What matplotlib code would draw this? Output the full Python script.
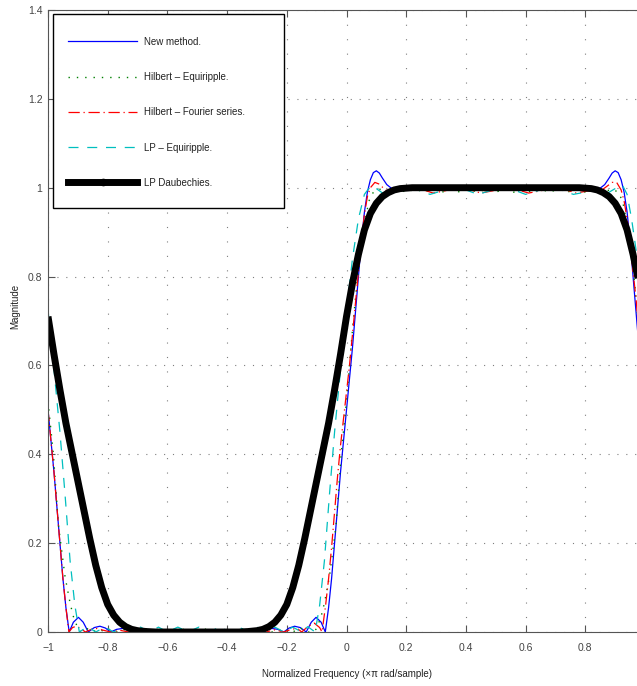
import matplotlib
matplotlib.use('Agg')
import matplotlib.pyplot as plt
from matplotlib.lines import Line2D
from matplotlib.patches import Rectangle

# ---- data ----
# New method (blue)
new_x = [-1.00, -0.99, -0.98, -0.97, -0.96, -0.95, -0.94, -0.929, -0.915, -0.898, -0.882, -0.865,
         -0.845, -0.826, -0.808, -0.79, -0.77, -0.75, -0.73, -0.71, -0.69, -0.67, -0.65, -0.63,
         -0.61, -0.59, -0.57, -0.55, -0.53, -0.50, -0.47, -0.45, -0.43, -0.41, -0.39, -0.37,
         -0.35, -0.33, -0.31, -0.29, -0.27, -0.25, -0.23, -0.21, -0.192, -0.174, -0.155, -0.135,
         -0.118, -0.102, -0.085, -0.071, -0.06, -0.05, -0.04, -0.03, -0.02, -0.01, 0.0, 0.01,
         0.02, 0.03, 0.04, 0.05, 0.06, 0.07, 0.08, 0.09, 0.10, 0.11, 0.12, 0.135, 0.15, 0.18,
         0.22, 0.26, 0.30, 0.34, 0.38, 0.42, 0.46, 0.50, 0.54, 0.58, 0.62, 0.66, 0.70, 0.74,
         0.78, 0.82, 0.85, 0.865, 0.88, 0.89, 0.90, 0.91, 0.92, 0.93, 0.94, 0.95, 0.96, 0.97,
         0.98, 0.99, 1.00]
new_y = [0.50, 0.43, 0.36, 0.28, 0.20, 0.12, 0.055, 0.0, 0.022, 0.033, 0.022, 0.0,
         0.010, 0.013, 0.009, 0.0, 0.006, 0.008, 0.005, 0.0, 0.004, 0.005, 0.003, 0.0,
         0.003, 0.004, 0.002, 0.0, 0.003, 0.004, 0.003, 0.0, 0.002, 0.004, 0.003, 0.0,
         0.003, 0.005, 0.004, 0.0, 0.005, 0.008, 0.006, 0.0, 0.009, 0.013, 0.010, 0.0,
         0.022, 0.033, 0.022, 0.0, 0.055, 0.12, 0.20, 0.28, 0.36, 0.43, 0.50, 0.57,
         0.64, 0.72, 0.80, 0.88, 0.945, 0.99, 1.018, 1.034, 1.038, 1.033, 1.022, 1.007, 0.999, 0.997,
         1.0, 1.002, 1.0, 0.998, 1.0, 1.002, 1.0, 0.998, 1.0, 1.002, 1.0, 0.998, 1.0, 1.002,
         1.0, 0.997, 0.999, 1.007, 1.022, 1.033, 1.038, 1.034, 1.018, 0.99, 0.945, 0.88, 0.80, 0.72,
         0.64, 0.57, 0.50]

# Hilbert - Equiripple (green dotted)
heq_x = [-1.00, -0.982, -0.965, -0.943, -0.926, -0.915, -0.90, -0.89, -0.87, -0.85, -0.83, -0.81,
         -0.79, -0.77, -0.75, -0.73, -0.71, -0.69, -0.67, -0.65, -0.63, -0.61, -0.59, -0.57,
         -0.55, -0.53, -0.51, -0.49, -0.47, -0.45, -0.43, -0.41, -0.39, -0.37, -0.35, -0.33,
         -0.31, -0.29, -0.27, -0.25, -0.23, -0.21, -0.19, -0.17, -0.15, -0.13, -0.11, -0.10,
         -0.085, -0.074, -0.057, -0.035, -0.018, 0.0, 0.02, 0.037, 0.058, 0.075, 0.09, 0.11,
         0.14, 0.17, 0.20, 0.23, 0.26, 0.29, 0.32, 0.35, 0.38, 0.41, 0.44, 0.47, 0.50, 0.53,
         0.56, 0.59, 0.62, 0.65, 0.68, 0.71, 0.74, 0.77, 0.80, 0.83, 0.86, 0.89, 0.91, 0.925,
         0.942, 0.963, 0.98, 1.00]
heq_y = [0.52, 0.40, 0.24, 0.125, 0.065, 0.035, 0.008, 0.0, 0.008, 0.0, 0.007, 0.0,
         0.007, 0.0, 0.007, 0.0, 0.007, 0.0, 0.007, 0.0, 0.007, 0.0, 0.007, 0.0,
         0.007, 0.0, 0.007, 0.0, 0.007, 0.0, 0.007, 0.0, 0.007, 0.0, 0.007, 0.0,
         0.007, 0.0, 0.007, 0.0, 0.007, 0.0, 0.007, 0.0, 0.008, 0.0, 0.0, 0.008,
         0.035, 0.065, 0.125, 0.24, 0.40, 0.52, 0.68, 0.80, 0.91, 0.97, 0.99, 0.997,
         0.99, 0.997, 0.99, 0.997, 0.99, 0.997, 0.99, 0.997, 0.99, 0.997, 0.99, 0.997, 0.99, 0.997,
         0.99, 0.997, 0.99, 0.997, 0.99, 0.997, 0.99, 0.997, 0.99, 0.997, 0.99, 0.997, 0.99, 0.97,
         0.91, 0.80, 0.68, 0.52]

# Hilbert - Fourier series (red dash-dot)
hfs_x = [-1.00, -0.99, -0.98, -0.97, -0.96, -0.95, -0.94, -0.93, -0.918, -0.905, -0.89, -0.875,
         -0.855, -0.835, -0.815, -0.79, -0.76, -0.73, -0.70, -0.66, -0.62, -0.58, -0.54, -0.50,
         -0.46, -0.42, -0.38, -0.34, -0.30, -0.27, -0.24, -0.21, -0.185, -0.165, -0.15, -0.13,
         -0.108, -0.09, -0.082, -0.07, -0.06, -0.05, -0.04, -0.03, -0.02, -0.01, 0.0, 0.01,
         0.02, 0.03, 0.04, 0.05, 0.06, 0.07, 0.08, 0.095, 0.11, 0.13, 0.15, 0.18, 0.21,
         0.25, 0.29, 0.33, 0.37, 0.41, 0.45, 0.49, 0.53, 0.57, 0.61, 0.65, 0.69, 0.73, 0.77,
         0.81, 0.85, 0.87, 0.89, 0.905, 0.92, 0.93, 0.94, 0.95, 0.96, 0.97, 0.98, 0.99, 1.00]
hfs_y = [0.50, 0.43, 0.36, 0.28, 0.20, 0.12, 0.055, 0.0, 0.010, 0.013, 0.008, 0.0,
         0.006, 0.008, 0.004, 0.0, 0.004, 0.0, 0.003, 0.0, 0.003, 0.0, 0.003, 0.0,
         0.003, 0.0, 0.003, 0.0, 0.004, 0.0, 0.005, 0.0, 0.006, 0.008, 0.0, 0.012,
         0.020, 0.010, 0.0, 0.06, 0.12, 0.19, 0.27, 0.35, 0.42, 0.48, 0.54, 0.60,
         0.67, 0.74, 0.81, 0.88, 0.94, 0.98, 1.0, 1.012, 1.008, 0.995, 0.99, 0.993, 1.0,
         0.997, 0.988, 0.993, 1.0, 0.996, 0.988, 0.993, 1.0, 0.996, 0.988, 0.993, 1.0, 0.996, 0.988,
         0.993, 0.992, 1.002, 1.012, 1.012, 0.995, 0.97, 0.93, 0.88, 0.81, 0.75, 0.67, 0.60, 0.54]

# LP - Equiripple (cyan dashed)
lpe_x = [-1.00, -0.982, -0.96, -0.943, -0.926, -0.91, -0.895, -0.868, -0.84, -0.81, -0.78, -0.75,
         -0.72, -0.69, -0.66, -0.63, -0.60, -0.565, -0.53, -0.495, -0.46, -0.425, -0.39, -0.36,
         -0.33, -0.30, -0.27, -0.24, -0.21, -0.18, -0.15, -0.13, -0.105, -0.09, -0.074, -0.057,
         -0.04, -0.018, 0.0, 0.02, 0.04, 0.06, 0.08, 0.10, 0.125, 0.16, 0.20, 0.24, 0.28,
         0.32, 0.36, 0.40, 0.44, 0.48, 0.52, 0.56, 0.60, 0.64, 0.68, 0.72, 0.76, 0.80, 0.84,
         0.875, 0.90, 0.925, 0.94, 0.955, 0.97, 0.985, 1.00]
lpe_y = [0.725, 0.605, 0.45, 0.31, 0.16, 0.06, 0.0, 0.012, 0.0, 0.011, 0.0, 0.011,
         0.0, 0.011, 0.0, 0.011, 0.0, 0.011, 0.0, 0.011, 0.0, 0.011, 0.0, 0.011,
         0.0, 0.011, 0.0, 0.011, 0.0, 0.011, 0.0, 0.012, 0.0, 0.06, 0.16, 0.31,
         0.45, 0.605, 0.725, 0.84, 0.93, 0.985, 1.003, 0.998, 0.986, 0.99, 1.002, 0.995, 0.985,
         0.993, 1.002, 0.995, 0.985, 0.993, 1.002, 0.995, 0.985, 0.993, 1.002, 0.995, 0.985, 0.99, 1.0,
         0.988, 0.998, 1.005, 0.985, 0.93, 0.86, 0.79, 0.725]

# LP Daubechies (black thick)
lpd_x = [-1.00, -0.98, -0.96, -0.94, -0.92, -0.90, -0.88, -0.86, -0.84, -0.82, -0.80, -0.78,
         -0.76, -0.74, -0.72, -0.70, -0.67, -0.64, -0.60, -0.50, -0.40, -0.36, -0.33, -0.30,
         -0.28, -0.26, -0.24, -0.22, -0.20, -0.18, -0.16, -0.14, -0.12, -0.10, -0.08, -0.06,
         -0.04, -0.02, 0.0, 0.02, 0.04, 0.06, 0.08, 0.10, 0.12, 0.14, 0.16, 0.18, 0.22,
         0.30, 0.50, 0.70, 0.78, 0.82, 0.84, 0.86, 0.88, 0.90, 0.92, 0.94, 0.96, 0.98, 1.00]
lpd_y = [0.71, 0.625, 0.545, 0.47, 0.405, 0.34, 0.275, 0.21, 0.15, 0.10, 0.062, 0.038,
         0.022, 0.012, 0.006, 0.003, 0.001, 0.0, 0.0, 0.0, 0.0, 0.0, 0.001, 0.003,
         0.006, 0.012, 0.022, 0.038, 0.062, 0.10, 0.15, 0.21, 0.275, 0.34, 0.405, 0.47,
         0.545, 0.625, 0.71, 0.785, 0.85, 0.905, 0.942, 0.965, 0.98, 0.989, 0.995, 0.998, 1.0,
         1.0, 1.0, 1.0, 1.0, 0.998, 0.995, 0.989, 0.98, 0.965, 0.942, 0.905, 0.85, 0.785, 0.71]

xticks = [-1, -0.8, -0.6, -0.4, -0.2, 0, 0.2, 0.4, 0.6, 0.8, 1]
xtick_labels = ['\u22121', '\u22120.8', '\u22120.6', '\u22120.4', '\u22120.2', '0', '0.2', '0.4', '0.6', '0.8', '']
yticks = [0, 0.2, 0.4, 0.6, 0.8, 1.0, 1.2, 1.4]
ytick_labels = ['0', '0.2', '0.4', '0.6', '0.8', '1', '1.2', '1.4']
labels = ['New method.', 'Hilbert \u2013 Equiripple.', 'Hilbert \u2013 Fourier series.',
          'LP \u2013 Equiripple.', 'LP Daubechies.']

plt.rcParams['font.family'] = ['Liberation Sans', 'DejaVu Sans']

fig = plt.figure(figsize=(6.37, 6.86), dpi=100)
# axes runs a little past the right edge, like the cropped original
ax = fig.add_axes([48 / 637, 54 / 686, 597 / 637, 622 / 686])

ax.plot(new_x, new_y, color='#0000ff', lw=0.9, label=labels[0])
ax.plot(heq_x, heq_y, color='#008000', lw=1.0, linestyle=(0, (1, 5)), label=labels[1])
ax.plot(hfs_x, hfs_y, color='#ff0000', lw=0.9, linestyle=(0, (9, 3, 1, 3)), label=labels[2])
ax.plot(lpe_x, lpe_y, color='#00bfbf', lw=0.9, linestyle=(0, (8, 7)), label=labels[3])
ax.plot(lpd_x, lpd_y, color='black', lw=5, solid_capstyle='butt', label=labels[4])

ax.set_xlim(-1, 1)
ax.set_ylim(0, 1.4)
ax.set_xticks(xticks)
ax.set_xticklabels(xtick_labels)
ax.set_yticks(yticks)
ax.set_yticklabels(ytick_labels)

ax.xaxis.grid(True, color='#7f7f7f', lw=0.8, linestyle=(0, (1, 12)))
ax.yaxis.grid(True, color='#7f7f7f', lw=0.8, linestyle=(0, (1, 7)))
ax.set_axisbelow(True)

ax.tick_params(direction='in', top=True, right=False, length=5, width=0.8,
               color='#555555', labelcolor='#444444', labelsize=7.5)
ax.tick_params(axis='x', pad=8)
ax.tick_params(axis='y', pad=4)
for s in ax.spines.values():
    s.set_color('#555555')
    s.set_linewidth(0.8)

ax.set_xlabel('Normalized Frequency (\u00d7\u03c0 rad/sample)', fontsize=7, color='#222222')
ax.xaxis.set_label_coords(0.5, -0.06)
ax.set_ylabel('Magnitude', fontsize=7, color='#222222')
ax.yaxis.set_label_coords(-0.046, 0.524)

# legend: white box drawn by hand, entries placed inside it
box = Rectangle((5 / 597, 424 / 622), 231 / 597, 194 / 622, transform=ax.transAxes,
                facecolor='white', edgecolor='black', lw=1.0, zorder=4)
ax.add_patch(box)

handles, labs = ax.get_legend_handles_labels()
handles[4] = Line2D([], [], color='black', lw=5, marker='.', markersize=9)
leg = ax.legend(handles, labs, loc='upper left', bbox_to_anchor=(20 / 597, 0.957),
                borderaxespad=0, borderpad=0, handlelength=7.1, handletextpad=0.75,
                labelspacing=2.6, frameon=False, fontsize=7, numpoints=1)
leg.set_zorder(5)
for t in leg.get_texts():
    t.set_color('#222222')

fig.savefig('out.png', dpi=100)
